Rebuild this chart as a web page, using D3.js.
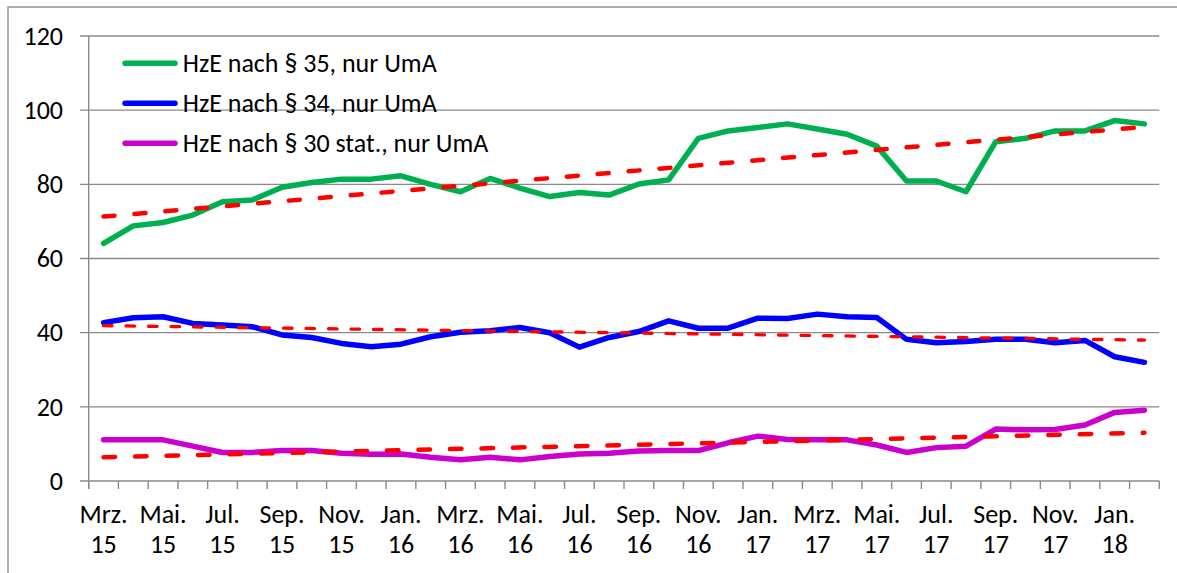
<!DOCTYPE html>
<html><head><meta charset="utf-8">
<script src="https://cdn.jsdelivr.net/npm/d3@7"></script>
<style>
html,body{margin:0;padding:0;background:#fff;}
svg{display:block;}
text{font-family:Carlito, Calibri, Lato, sans-serif;fill:#000;}
</style></head>
<body>
<svg id="chart" width="1177" height="573"></svg>
<script>
// ---- data ----
const categories = ["Mrz. 15","Apr. 15","Mai. 15","Jun. 15","Jul. 15","Aug. 15","Sep. 15","Okt. 15","Nov. 15","Dez. 15",
  "Jan. 16","Feb. 16","Mrz. 16","Apr. 16","Mai. 16","Jun. 16","Jul. 16","Aug. 16","Sep. 16","Okt. 16","Nov. 16","Dez. 16",
  "Jan. 17","Feb. 17","Mrz. 17","Apr. 17","Mai. 17","Jun. 17","Jul. 17","Aug. 17","Sep. 17","Okt. 17","Nov. 17","Dez. 17",
  "Jan. 18","Feb. 18"];
const tickLabels = ["Mrz. 15","Mai. 15","Jul. 15","Sep. 15","Nov. 15","Jan. 16","Mrz. 16","Mai. 16","Jul. 16","Sep. 16",
  "Nov. 16","Jan. 17","Mrz. 17","Mai. 17","Jul. 17","Sep. 17","Nov. 17","Jan. 18"];
const yTicks = [0,20,40,60,80,100,120];
const seriesNames = ["HzE nach § 35, nur UmA","HzE nach § 34, nur UmA","HzE nach § 30 stat., nur UmA"];
const green = [64.1,68.8,69.7,71.7,75.3,75.8,79.2,80.5,81.4,81.4,82.3,80.0,78.0,81.6,79.0,76.7,77.8,77.1,80.1,81.2,
  92.4,94.4,95.3,96.3,94.9,93.5,90.3,80.9,80.9,78.0,91.5,92.4,94.4,94.4,97.2,96.3];
const blue = [42.7,44.0,44.3,42.5,42.1,41.6,39.4,38.7,37.1,36.2,36.9,38.9,40.1,40.5,41.4,40.0,36.1,38.7,40.3,43.2,
  41.2,41.2,43.9,43.8,45.0,44.3,44.1,38.2,37.3,37.6,38.2,38.2,37.3,37.9,33.5,32.0];
const pink = [11.1,11.1,11.1,9.4,7.7,7.7,8.2,8.2,7.5,7.2,7.3,6.4,5.7,6.4,5.7,6.6,7.3,7.5,8.1,8.2,
  8.2,10.3,12.1,11.2,11.1,11.1,9.7,7.7,9.0,9.4,14.0,13.8,13.9,15.1,18.5,19.1];
// linear trend lines (start and end values)
const trendGreen = [71.3,95.5];
const trendBlue = [41.9,38.0];
const trendPink = [6.4,13.0];

(function(){
// ---- layout ----
const svg = d3.select("#chart");
const pLeft = 88.7, pRight = 1159.3, pTop = 36, pBottom = 481;
const x = d3.scaleBand().domain(categories).range([pLeft,pRight]).padding(0);
const y = d3.scaleLinear().domain([0,120]).range([pBottom,pTop]);
const cx = d => x(d) + x.bandwidth()/2;
const gridColor = "#8a8a8a";
const FONT = "Carlito, Calibri, Lato, sans-serif";
const FS = "26px";

// outer frame
svg.append("rect").attr("x",8).attr("y",7).attr("width",1300).attr("height",700)
  .attr("fill","none").attr("stroke","#8c8c8c").attr("stroke-width",1.4);

// gridlines
svg.append("g").selectAll("line").data(yTicks).join("line")
  .attr("x1",80).attr("x2",pRight).attr("y1",d=>y(d)).attr("y2",d=>y(d))
  .attr("stroke",gridColor).attr("stroke-width",1.4);

// y axis line
svg.append("line").attr("x1",pLeft).attr("x2",pLeft).attr("y1",pTop).attr("y2",pBottom+8)
  .attr("stroke",gridColor).attr("stroke-width",1.4);

// x tick marks at category boundaries
const bounds = categories.map(c=>x(c)).concat([x.range()[1]]);
svg.append("g").selectAll("line").data(bounds).join("line")
  .attr("x1",d=>d).attr("x2",d=>d).attr("y1",pBottom).attr("y2",pBottom+8)
  .attr("stroke",gridColor).attr("stroke-width",1.4);

// y axis labels
const yAxis = d3.axisLeft(y).tickValues(yTicks).tickSize(0).tickPadding(25.7);
const gy = svg.append("g").attr("transform",`translate(${pLeft},0)`).call(yAxis);
gy.select(".domain").remove();
gy.selectAll("text").style("font-family",FONT).style("font-size",FS).attr("fill","#000");

// x axis labels (two lines)
const xAxis = d3.axisBottom(x).tickValues(tickLabels).tickSize(0).tickFormat(()=>"");
const gx = svg.append("g").attr("transform",`translate(0,${pBottom})`).call(xAxis);
gx.select(".domain").remove();
gx.selectAll(".tick").each(function(d){
  const t = d3.select(this).select("text").text(null).attr("y",0).attr("dy",null)
    .style("font-family",FONT).style("font-size",FS).attr("fill","#000");
  const parts = d.split(" ");
  t.append("tspan").attr("x",0).attr("y",42).text(parts[0]);
  t.append("tspan").attr("x",0).attr("y",72).text(parts[1]);
});

// series lines
const line = d3.line().x((d,i)=>cx(categories[i])).y(d=>y(d));
const series = [
  {vals:green,color:"#00B050"},
  {vals:blue,color:"#0000FF"},
  {vals:pink,color:"#CC00CC"}
];
series.forEach(s=>{
  svg.append("path").attr("d",line(s.vals)).attr("fill","none").attr("stroke",s.color)
    .attr("stroke-width",5.5).attr("stroke-linejoin","round").attr("stroke-linecap","round");
});

// trend lines
const trends = [
  {vals:trendGreen,w:4.5,dash:"11,20"},
  {vals:trendBlue,w:3.3,dash:"8.5,14"},
  {vals:trendPink,w:4.5,dash:"11.5,20"}
];
const firstX = cx(categories[0]), lastX = cx(categories[categories.length-1]);
trends.forEach(t=>{
  svg.append("line").attr("x1",firstX).attr("x2",lastX).attr("y1",y(t.vals[0])).attr("y2",y(t.vals[1]))
    .attr("stroke","#FF0000").attr("stroke-width",t.w).attr("stroke-dasharray",t.dash)
    .attr("stroke-linecap","round");
});

// legend
const legendY = [63.3,103.3,143.3];
const lg = svg.append("g");
seriesNames.forEach((n,i)=>{
  lg.append("line").attr("x1",125).attr("x2",175).attr("y1",legendY[i]).attr("y2",legendY[i])
    .attr("stroke",series[i].color).attr("stroke-width",5.5).attr("stroke-linecap","round");
  lg.append("text").attr("x",182.7).attr("y",legendY[i]+8.3).style("font-family",FONT).style("font-size",FS).text(n);
});
})();
</script>
</body></html>
